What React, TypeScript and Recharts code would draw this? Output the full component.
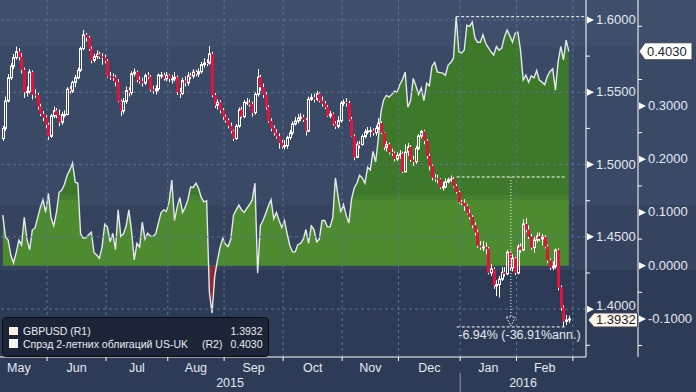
import React from "react";
import { ComposedChart, Area, Bar, XAxis, YAxis, ReferenceLine, ReferenceDot } from "recharts";

// trading days, index 0 = 7 May 2015 ... 211 = 26 Feb 2016
const FIRST_OPEN = 1.518;
const CLOSE = [
  1.5250, 1.5440, 1.5600, 1.5680, 1.5740, 1.5780, 1.5745, 1.5655, 1.5500, 1.5505,
  1.5640, 1.5485, 1.5480, 1.5400, 1.5350, 1.5325, 1.5275, 1.5195, 1.5336, 1.5373,
  1.5342, 1.5292, 1.5345, 1.5346, 1.5521, 1.5508, 1.5568, 1.5600, 1.5652, 1.5802,
  1.5897, 1.5877, 1.5800, 1.5720, 1.5746, 1.5763, 1.5747, 1.5740, 1.5716, 1.5609,
  1.5608, 1.5606, 1.5570, 1.5438, 1.5370, 1.5437, 1.5512, 1.5497, 1.5628, 1.5639,
  1.5586, 1.5575, 1.5563, 1.5615, 1.5606, 1.5519, 1.5510, 1.5524, 1.5618, 1.5618,
  1.5593, 1.5616, 1.5593, 1.5593, 1.5603, 1.5502, 1.5491, 1.5580, 1.5565, 1.5614,
  1.5612, 1.5640, 1.5626, 1.5642, 1.5691, 1.5702, 1.5701, 1.5765, 1.5480, 1.5410,
  1.5430, 1.5375, 1.5330, 1.5306, 1.5267, 1.5232, 1.5180, 1.5265, 1.5379, 1.5332,
  1.5430, 1.5430, 1.5416, 1.5359, 1.5485, 1.5606, 1.5535, 1.5483, 1.5397, 1.5300,
  1.5250, 1.5220, 1.5195, 1.5150, 1.5125, 1.5131, 1.5187, 1.5219, 1.5281, 1.5301,
  1.5320, 1.5327, 1.5309, 1.5231, 1.5452, 1.5464, 1.5451, 1.5490, 1.5441, 1.5421,
  1.5396, 1.5336, 1.5349, 1.5282, 1.5264, 1.5303, 1.5424, 1.5431, 1.5425, 1.5312,
  1.5195, 1.5050, 1.5141, 1.5138, 1.5194, 1.5224, 1.5231, 1.5236, 1.5220, 1.5250,
  1.5286, 1.5220, 1.5119, 1.5139, 1.5085, 1.5077, 1.5038, 1.5064, 1.5075, 1.4950,
  1.5086, 1.5122, 1.5033, 1.5020, 1.5111, 1.5197, 1.5228, 1.5164, 1.5059, 1.4990,
  1.4909, 1.4903, 1.4897, 1.4842, 1.4846, 1.4880, 1.4895, 1.4900, 1.4850, 1.4810,
  1.4740, 1.4735, 1.4712, 1.4663, 1.4637, 1.4580, 1.4530, 1.4439, 1.4428, 1.4430,
  1.4418, 1.4251, 1.4278, 1.4160, 1.4170, 1.4207, 1.4255, 1.4244, 1.4393, 1.4285,
  1.4351, 1.4250, 1.4432, 1.4410, 1.4589, 1.4549, 1.4502, 1.4426, 1.4478, 1.4506,
  1.4486, 1.4497, 1.4432, 1.4337, 1.4286, 1.4297, 1.4408, 1.4150, 1.4010, 1.3915,
  1.3925, 1.3932,
];
const HIGH = [
  1.5268, 1.5470, 1.5625, 1.5700, 1.5765, 1.5815, 1.5805, 1.5770, 1.5670, 1.5540,
  1.5660, 1.5650, 1.5520, 1.5495, 1.5420, 1.5370, 1.5340, 1.5290, 1.5350, 1.5400,
  1.5390, 1.5380, 1.5365, 1.5375, 1.5535, 1.5545, 1.5580, 1.5620, 1.5670, 1.5815,
  1.5930, 1.5910, 1.5890, 1.5815, 1.5765, 1.5790, 1.5780, 1.5770, 1.5760, 1.5730,
  1.5640, 1.5630, 1.5620, 1.5590, 1.5450, 1.5460, 1.5540, 1.5535, 1.5645, 1.5665,
  1.5650, 1.5610, 1.5600, 1.5630, 1.5640, 1.5620, 1.5545, 1.5550, 1.5630, 1.5640,
  1.5635, 1.5640, 1.5625, 1.5620, 1.5640, 1.5615, 1.5530, 1.5600, 1.5610, 1.5640,
  1.5635, 1.5660, 1.5655, 1.5665, 1.5710, 1.5735, 1.5730, 1.5819, 1.5780, 1.5495,
  1.5450, 1.5445, 1.5390, 1.5345, 1.5320, 1.5290, 1.5240, 1.5280, 1.5395, 1.5400,
  1.5445, 1.5460, 1.5450, 1.5435, 1.5500, 1.5660, 1.5620, 1.5560, 1.5500, 1.5410,
  1.5320, 1.5270, 1.5245, 1.5215, 1.5170, 1.5170, 1.5200, 1.5240, 1.5300, 1.5330,
  1.5350, 1.5355, 1.5345, 1.5320, 1.5470, 1.5490, 1.5490, 1.5510, 1.5500, 1.5470,
  1.5440, 1.5410, 1.5370, 1.5360, 1.5300, 1.5335, 1.5440, 1.5450, 1.5460, 1.5440,
  1.5330, 1.5210, 1.5160, 1.5165, 1.5210, 1.5245, 1.5260, 1.5260, 1.5250, 1.5270,
  1.5320, 1.5300, 1.5225, 1.5160, 1.5150, 1.5110, 1.5090, 1.5085, 1.5100, 1.5090,
  1.5140, 1.5150, 1.5135, 1.5060, 1.5130, 1.5210, 1.5240, 1.5240, 1.5175, 1.5075,
  1.5000, 1.4935, 1.4930, 1.4905, 1.4880, 1.4905, 1.4910, 1.4925, 1.4915, 1.4865,
  1.4820, 1.4755, 1.4760, 1.4725, 1.4690, 1.4650, 1.4600, 1.4550, 1.4470, 1.4470,
  1.4460, 1.4430, 1.4310, 1.4290, 1.4200, 1.4230, 1.4290, 1.4290, 1.4410, 1.4400,
  1.4380, 1.4360, 1.4450, 1.4455, 1.4620, 1.4630, 1.4580, 1.4520, 1.4500, 1.4530,
  1.4530, 1.4520, 1.4510, 1.4445, 1.4350, 1.4330, 1.4420, 1.4420, 1.4165, 1.4025,
  1.3960, 1.3955,
];
const LOW = [
  1.5164, 1.5232, 1.5430, 1.5585, 1.5660, 1.5725, 1.5720, 1.5630, 1.5460, 1.5470,
  1.5490, 1.5450, 1.5460, 1.5380, 1.5335, 1.5300, 1.5250, 1.5170, 1.5185, 1.5320,
  1.5320, 1.5265, 1.5275, 1.5325, 1.5340, 1.5490, 1.5495, 1.5535, 1.5590, 1.5640,
  1.5790, 1.5850, 1.5785, 1.5700, 1.5705, 1.5730, 1.5730, 1.5690, 1.5700, 1.5600,
  1.5585, 1.5580, 1.5540, 1.5430, 1.5335, 1.5350, 1.5420, 1.5470, 1.5480, 1.5610,
  1.5570, 1.5560, 1.5540, 1.5550, 1.5590, 1.5505, 1.5490, 1.5485, 1.5510, 1.5595,
  1.5580, 1.5575, 1.5570, 1.5560, 1.5575, 1.5480, 1.5460, 1.5480, 1.5540, 1.5545,
  1.5590, 1.5595, 1.5610, 1.5605, 1.5630, 1.5670, 1.5680, 1.5690, 1.5465, 1.5390,
  1.5380, 1.5355, 1.5310, 1.5290, 1.5250, 1.5215, 1.5163, 1.5170, 1.5255, 1.5320,
  1.5320, 1.5410, 1.5400, 1.5330, 1.5345, 1.5470, 1.5510, 1.5460, 1.5380, 1.5290,
  1.5230, 1.5200, 1.5180, 1.5110, 1.5110, 1.5105, 1.5110, 1.5170, 1.5205, 1.5270,
  1.5285, 1.5300, 1.5295, 1.5200, 1.5225, 1.5440, 1.5430, 1.5440, 1.5430, 1.5400,
  1.5385, 1.5330, 1.5320, 1.5270, 1.5245, 1.5250, 1.5290, 1.5405, 1.5400, 1.5300,
  1.5190, 1.5030, 1.5045, 1.5110, 1.5130, 1.5180, 1.5210, 1.5190, 1.5200, 1.5200,
  1.5240, 1.5210, 1.5100, 1.5090, 1.5070, 1.5060, 1.5020, 1.5025, 1.5040, 1.4940,
  1.4945, 1.5060, 1.5020, 1.4990, 1.5005, 1.5100, 1.5180, 1.5140, 1.5040, 1.4960,
  1.4890, 1.4880, 1.4870, 1.4830, 1.4820, 1.4835, 1.4870, 1.4880, 1.4840, 1.4800,
  1.4730, 1.4720, 1.4680, 1.4655, 1.4620, 1.4560, 1.4510, 1.4425, 1.4410, 1.4400,
  1.4380, 1.4240, 1.4230, 1.4140, 1.4090, 1.4080, 1.4195, 1.4225, 1.4235, 1.4270,
  1.4260, 1.4235, 1.4240, 1.4390, 1.4400, 1.4530, 1.4485, 1.4410, 1.4390, 1.4460,
  1.4470, 1.4440, 1.4420, 1.4320, 1.4270, 1.4270, 1.4280, 1.4130, 1.3990, 1.3880,
  1.3890, 1.3905,
];
// US-UK 2y spread
const SPREAD = [
  0.095, 0.054, 0.048, 0.020, 0.005, 0.025, 0.048, 0.039, 0.091, 0.050,
  0.030, 0.067, 0.071, 0.090, 0.110, 0.124, 0.100, 0.136, 0.090, 0.075,
  0.100, 0.138, 0.142, 0.153, 0.170, 0.180, 0.193, 0.157, 0.155, 0.060,
  0.052, 0.052, 0.058, 0.063, 0.025, 0.020, 0.014, 0.035, 0.078, 0.073,
  0.045, 0.061, 0.030, 0.105, 0.055, 0.060, 0.075, 0.105, 0.065, 0.011,
  0.042, 0.035, 0.082, 0.050, 0.061, 0.056, 0.055, 0.060, 0.080, 0.100,
  0.105, 0.102, 0.120, 0.161, 0.085, 0.110, 0.128, 0.100, 0.110, 0.124,
  0.148, 0.147, 0.155, 0.145, 0.128, 0.120, 0.122, -0.050, -0.089, -0.020,
  0.010, 0.035, 0.052, 0.040, 0.036, 0.050, 0.095, 0.105, 0.114, 0.105,
  0.100, 0.108, 0.115, 0.124, 0.155, -0.014, 0.075, 0.085, 0.098, 0.112,
  0.124, 0.088, 0.100, 0.085, 0.072, 0.085, 0.060, 0.038, 0.026, 0.026,
  0.040, 0.042, 0.050, 0.068, 0.042, 0.075, 0.068, 0.045, 0.050, 0.085,
  0.085, 0.073, 0.073, 0.090, 0.165, 0.130, 0.100, 0.115, 0.095, 0.080,
  0.125, 0.146, 0.155, 0.170, 0.165, 0.155, 0.185, 0.180, 0.215, 0.195,
  0.240, 0.290, 0.312, 0.320, 0.317, 0.322, 0.328, 0.326, 0.340, 0.350,
  0.364, 0.298, 0.310, 0.352, 0.338, 0.322, 0.334, 0.310, 0.343, 0.338,
  0.375, 0.382, 0.364, 0.363, 0.362, 0.358, 0.377, 0.382, 0.390, 0.468,
  0.402, 0.400, 0.405, 0.452, 0.450, 0.458, 0.428, 0.420, 0.420, 0.434,
  0.418, 0.410, 0.402, 0.396, 0.412, 0.405, 0.409, 0.430, 0.443, 0.432,
  0.420, 0.437, 0.439, 0.405, 0.349, 0.358, 0.345, 0.357, 0.353, 0.367,
  0.349, 0.345, 0.340, 0.356, 0.365, 0.370, 0.330, 0.383, 0.412, 0.387,
  0.424, 0.403,
];

const MONTHS = ["May", "Jun", "Jul", "Aug", "Sep", "Oct", "Nov", "Dec", "Jan", "Feb"];
const MONTH_MID = [6, 27.5, 50, 72, 93.5, 115.5, 137, 159, 181, 202];
const MONTH_START = [16.5, 38.5, 61.5, 82.5, 104.5, 126.5, 147.5, 170.5, 191.5, 212.5];
const YEARS = ["2015", "2016"];
const YEAR_START = 170.5;

const R1_TICKS = [1.4, 1.45, 1.5, 1.55, 1.6];
const R1_MINOR = [1.375, 1.425, 1.475, 1.525, 1.575];
const R2_TICKS = [-0.1, 0, 0.1, 0.2, 0.3];
const R2_MINOR = [-0.15, -0.05, 0.05, 0.15, 0.25, 0.35, 0.45];

// change-measure annotation
const MEASURE_START = 169.2;
const MEASURE_END = 210;
const MEASURE_X = 189.4;
const MEASURE_FROM = 1.4914;
const MEASURE_ARROW = 1.3945;
const MEASURE_LOW = 1.3877;
const MEASURE_TEXT = "-6.94% (-36.91%ann.)";

const W = 696;
const H = 392;
const PLOT_H = 357;
const R1_W = 52;
const R2_W = 58;
const X_DOMAIN = [-1.04, 217.4];
const R1_DOMAIN = [1.3669, 1.6138];
const R2_DOMAIN = [-0.1716, 0.4994];

const FONT = "'Liberation Sans', Arial, sans-serif";
const INK = "#e2e9f3";
const GRID = "#5a7392";

const last = CLOSE.length - 1;
const spreadMax = Math.max(...SPREAD);
const spreadMaxIdx = SPREAD.indexOf(spreadMax);
const YEAR_MID = [(X_DOMAIN[0] + YEAR_START) / 2, (YEAR_START + X_DOMAIN[1]) / 2];
const zeroOff = R2_DOMAIN[1] / (R2_DOMAIN[1] - R2_DOMAIN[0]);

const rows = CLOSE.map((c, i) => ({
  i,
  o: i === 0 ? FIRST_OPEN : CLOSE[i - 1],
  h: HIGH[i],
  l: LOW[i],
  c,
  s: SPREAD[i],
}));

function Candle(props: any) {
  const { x, y, width, height, payload } = props;
  if (!payload || !isFinite(y) || !isFinite(height) || height <= 0) return null;
  const { o, h, l, c } = payload;
  const cx = Math.round(x + width / 2);
  const py = (v: number) => y + ((h - v) / (h - l)) * height;
  const top = py(Math.max(o, c));
  const bot = Math.max(py(Math.min(o, c)), top + 1);
  const up = c >= o;
  return (
    <g>
      <line x1={cx + 0.5} x2={cx + 0.5} y1={y} y2={top} stroke="#ffffff" />
      <line x1={cx + 0.5} x2={cx + 0.5} y1={bot} y2={y + height} stroke="#ffffff" />
      {up ? (
        <rect x={cx - 0.5} y={top} width={2} height={bot - top} fill="none" stroke="#ffffff" strokeWidth={1} />
      ) : (
        <rect x={cx - 1} y={top} width={3} height={bot - top} fill="#e3123d" />
      )}
    </g>
  );
}

function XTick(props: any) {
  const { x, y, payload } = props;
  const v = payload.value;
  const s = MONTH_START.indexOf(v);
  if (s >= 0) {
    return (
      <g>
        <line x1={x} x2={x} y1={y} y2={y + 4} stroke="#ffffff" />
        {v === YEAR_START && <line x1={x} x2={x} y1={y + 16} y2={y + 40} stroke="#8f99ab" />}
      </g>
    );
  }
  const m = MONTH_MID.indexOf(v);
  if (m >= 0) {
    return (
      <text x={x} y={y + 15} textAnchor="middle" fill={INK} fontSize={12.5} fontFamily={FONT}>
        {MONTHS[m]}
      </text>
    );
  }
  const yr = YEAR_MID.indexOf(v);
  if (yr >= 0) {
    return (
      <text x={x} y={y + 30} textAnchor="middle" fill={INK} fontSize={12.5} fontFamily={FONT}>
        {YEARS[yr]}
      </text>
    );
  }
  return null;
}

// labels that sit right above a value flag get lifted a little
const LIFT: Record<string, number> = { "1.4000": 3 };

const makeYTick = (majors: number[], textDx: number) => (props: any) => {
  const { x, y, payload } = props;
  const v = payload.value;
  if (majors.indexOf(v) < 0) {
    return <line x1={x} x2={x + 4} y1={y} y2={y} stroke="#ffffff" />;
  }
  const txt = v.toFixed(4);
  const lift = LIFT[txt] || 0;
  return (
    <g>
      <path d={`M${x + 1},${y - 3.5}L${x + 8},${y}L${x + 1},${y + 3.5}Z`} fill="#ffffff" />
      <text x={x + textDx} y={y + 4 - lift} fill={INK} fontSize={13} fontFamily={FONT}>
        {txt}
      </text>
    </g>
  );
};

function Flag({ tip, right, cy, text, fill, half }: any) {
  return (
    <g>
      <path
        d={`M${tip},${cy}L${tip + 6},${cy - half}L${right},${cy - half}L${right},${cy + half}L${tip + 6},${cy + half}Z`}
        fill={fill}
        stroke="#404756"
        strokeWidth={1}
      />
      <text x={tip + 8} y={cy + 4.5} fill="#1a1f2c" fontSize={13} fontFamily={FONT}>
        {text}
      </text>
    </g>
  );
}

function Legend() {
  const row: React.CSSProperties = { position: "absolute", left: 20.5, height: 12, lineHeight: "12px", whiteSpace: "nowrap" };
  const sq: React.CSSProperties = { position: "absolute", left: 6.5, width: 8.5, height: 8.5 };
  return (
    <div
      style={{
        position: "absolute",
        left: 1.5,
        top: 317,
        width: 267,
        height: 40,
        boxSizing: "border-box",
        background: "#1c2537",
        border: "1px solid #080c15",
        borderRadius: 4,
        fontFamily: FONT,
        fontSize: 10.5,
        color: "#e8ecf2",
      }}
    >
      <div style={{ ...sq, top: 8.5, background: "#fdf0e6" }} />
      <div style={{ ...row, top: 7 }}>GBPUSD (R1)</div>
      <div style={{ ...row, left: "auto", right: 5, top: 7 }}>{CLOSE[last].toFixed(4)}</div>
      <div style={{ ...sq, top: 21, background: "#f6f6f6" }} />
      <div style={{ ...row, top: 20 }}>Спрэд 2-летних облигаций US-UK</div>
      <div style={{ ...row, left: 199.5, top: 20 }}>(R2)</div>
      <div style={{ ...row, left: "auto", right: 5, top: 20 }}>{SPREAD[last].toFixed(4)}</div>
    </div>
  );
}

export default function App() {
  return (
    <div
      style={{
        position: "absolute",
        left: 0,
        top: 0,
        width: W,
        height: H,
        background:
          "linear-gradient(to bottom, #3f4e6a 0px, #3f4e6a 47px, #3a4965 47px, #3a4965 205px, #35435f 205px, #35435f 270px, #2e3b56 270px, #2e3b56 100%)",
      }}
    >
      <ComposedChart width={W} height={H} data={rows} margin={{ top: 0, right: 0, bottom: 0, left: 0 }} style={{ fontFamily: FONT }}>
        <defs>
          <linearGradient id="spreadFill" gradientUnits="userSpaceOnUse" x1="0" y1="0" x2="0" y2={PLOT_H}>
            <stop offset="0" stopColor="#3e782b" />
            <stop offset={195 / PLOT_H} stopColor="#3e782b" />
            <stop offset={195 / PLOT_H} stopColor="#467f2e" />
            <stop offset={200 / PLOT_H} stopColor="#467f2e" />
            <stop offset={200 / PLOT_H} stopColor="#4d8a30" />
            <stop offset={zeroOff} stopColor="#4d8a30" />
            <stop offset={zeroOff} stopColor="#8e2a2e" />
            <stop offset="1" stopColor="#8e2a2e" />
          </linearGradient>
        </defs>

        <XAxis
          type="number"
          dataKey="i"
          domain={X_DOMAIN}
          allowDataOverflow
          ticks={[...MONTH_START, ...MONTH_MID, ...YEAR_MID]}
          interval={0}
          height={H - PLOT_H}
          tickSize={0}
          tickMargin={0}
          tickLine={false}
          axisLine={{ stroke: "#ffffff" }}
          tick={(p: any) => <XTick {...p} />}
        />
        <YAxis
          yAxisId="r1"
          orientation="right"
          type="number"
          domain={R1_DOMAIN}
          allowDataOverflow
          ticks={[...R1_TICKS, ...R1_MINOR]}
          interval={0}
          width={R1_W}
          tickSize={0}
          tickMargin={0}
          tickLine={false}
          axisLine={{ stroke: "#ffffff" }}
          tick={makeYTick(R1_TICKS, 10)}
        />
        <YAxis
          yAxisId="r2"
          orientation="right"
          type="number"
          domain={R2_DOMAIN}
          allowDataOverflow
          ticks={[...R2_TICKS, ...R2_MINOR]}
          interval={0}
          width={R2_W}
          tickSize={0}
          tickMargin={0}
          tickLine={false}
          axisLine={{ stroke: "#ffffff" }}
          tick={makeYTick(R2_TICKS, 10)}
        />

        <Area
          yAxisId="r2"
          dataKey="s"
          type="linear"
          baseValue={0}
          stroke="#e4e8ef"
          strokeWidth={1.4}
          fill="url(#spreadFill)"
          fillOpacity={1}
          dot={false}
          activeDot={false}
          isAnimationActive={false}
        />

        {MONTH_START.map((v) => (
          <ReferenceLine key={`vx${v}`} yAxisId="r1" x={v} stroke={GRID} strokeDasharray="3 3" zIndex={150} />
        ))}
        {R1_TICKS.map((v) => (
          <ReferenceLine key={`hy${v}`} yAxisId="r1" y={v} stroke={GRID} strokeDasharray="3 3" zIndex={150} />
        ))}

        <Bar
          yAxisId="r1"
          dataKey={(d: any) => [d.l, d.h]}
          barSize={3}
          shape={(p: any) => <Candle {...p} />}
          isAnimationActive={false}
        />

        <ReferenceLine
          yAxisId="r2"
          segment={[{ x: spreadMaxIdx, y: spreadMax }, { x: X_DOMAIN[1], y: spreadMax }]}
          stroke="#ffffff"
          strokeDasharray="3 2"
          ifOverflow="visible"
          zIndex={700}
        />
        <ReferenceLine
          yAxisId="r1"
          segment={[{ x: MEASURE_START, y: MEASURE_FROM }, { x: MEASURE_END, y: MEASURE_FROM }]}
          stroke="#ffffff"
          strokeDasharray="3 2"
          ifOverflow="visible"
          zIndex={700}
        />
        <ReferenceLine
          yAxisId="r1"
          segment={[{ x: MEASURE_X, y: MEASURE_FROM }, { x: MEASURE_X, y: MEASURE_ARROW }]}
          stroke="#ffffff"
          strokeDasharray="1 2"
          ifOverflow="visible"
          zIndex={700}
        />
        <ReferenceLine
          yAxisId="r1"
          segment={[{ x: MEASURE_START, y: MEASURE_LOW }, { x: MEASURE_END, y: MEASURE_LOW }]}
          stroke="#ffffff"
          strokeDasharray="3 2"
          ifOverflow="visible"
          zIndex={700}
          label={(p: any) => {
            const vb = p.viewBox || {};
            return (
              <text x={vb.x + vb.width / 2 + 8} y={vb.y + 12} textAnchor="middle" fill={INK} fontSize={12.5} fontFamily={FONT}>
                {MEASURE_TEXT}
              </text>
            );
          }}
        />
        <ReferenceDot
          yAxisId="r1"
          x={MEASURE_X}
          y={MEASURE_LOW}
          ifOverflow="visible"
          zIndex={700}
          shape={(p: any) => (
            <path
              d={`M${p.cx - 4.5},${p.cy - 10}L${p.cx + 4.5},${p.cy - 10}L${p.cx},${p.cy - 1}Z`}
              fill="none"
              stroke="#ffffff"
              strokeDasharray="1.5 1.5"
            />
          )}
        />

        <ReferenceDot
          yAxisId="r1"
          x={X_DOMAIN[1]}
          y={CLOSE[last]}
          ifOverflow="visible"
          zIndex={2100}
          shape={(p: any) => (
            <Flag tip={p.cx + 2} right={p.cx + R1_W - 0.5} cy={p.cy + 1} half={7} text={CLOSE[last].toFixed(4)} fill="#fdf4ea" />
          )}
        />
        <ReferenceDot
          yAxisId="r2"
          x={X_DOMAIN[1]}
          y={SPREAD[last]}
          ifOverflow="visible"
          zIndex={2100}
          shape={(p: any) => (
            <Flag tip={p.cx + R1_W + 1} right={p.cx + R1_W + 54} cy={p.cy} half={8.5} text={SPREAD[last].toFixed(4)} fill="#ffffff" />
          )}
        />
      </ComposedChart>
      <Legend />
    </div>
  );
}
